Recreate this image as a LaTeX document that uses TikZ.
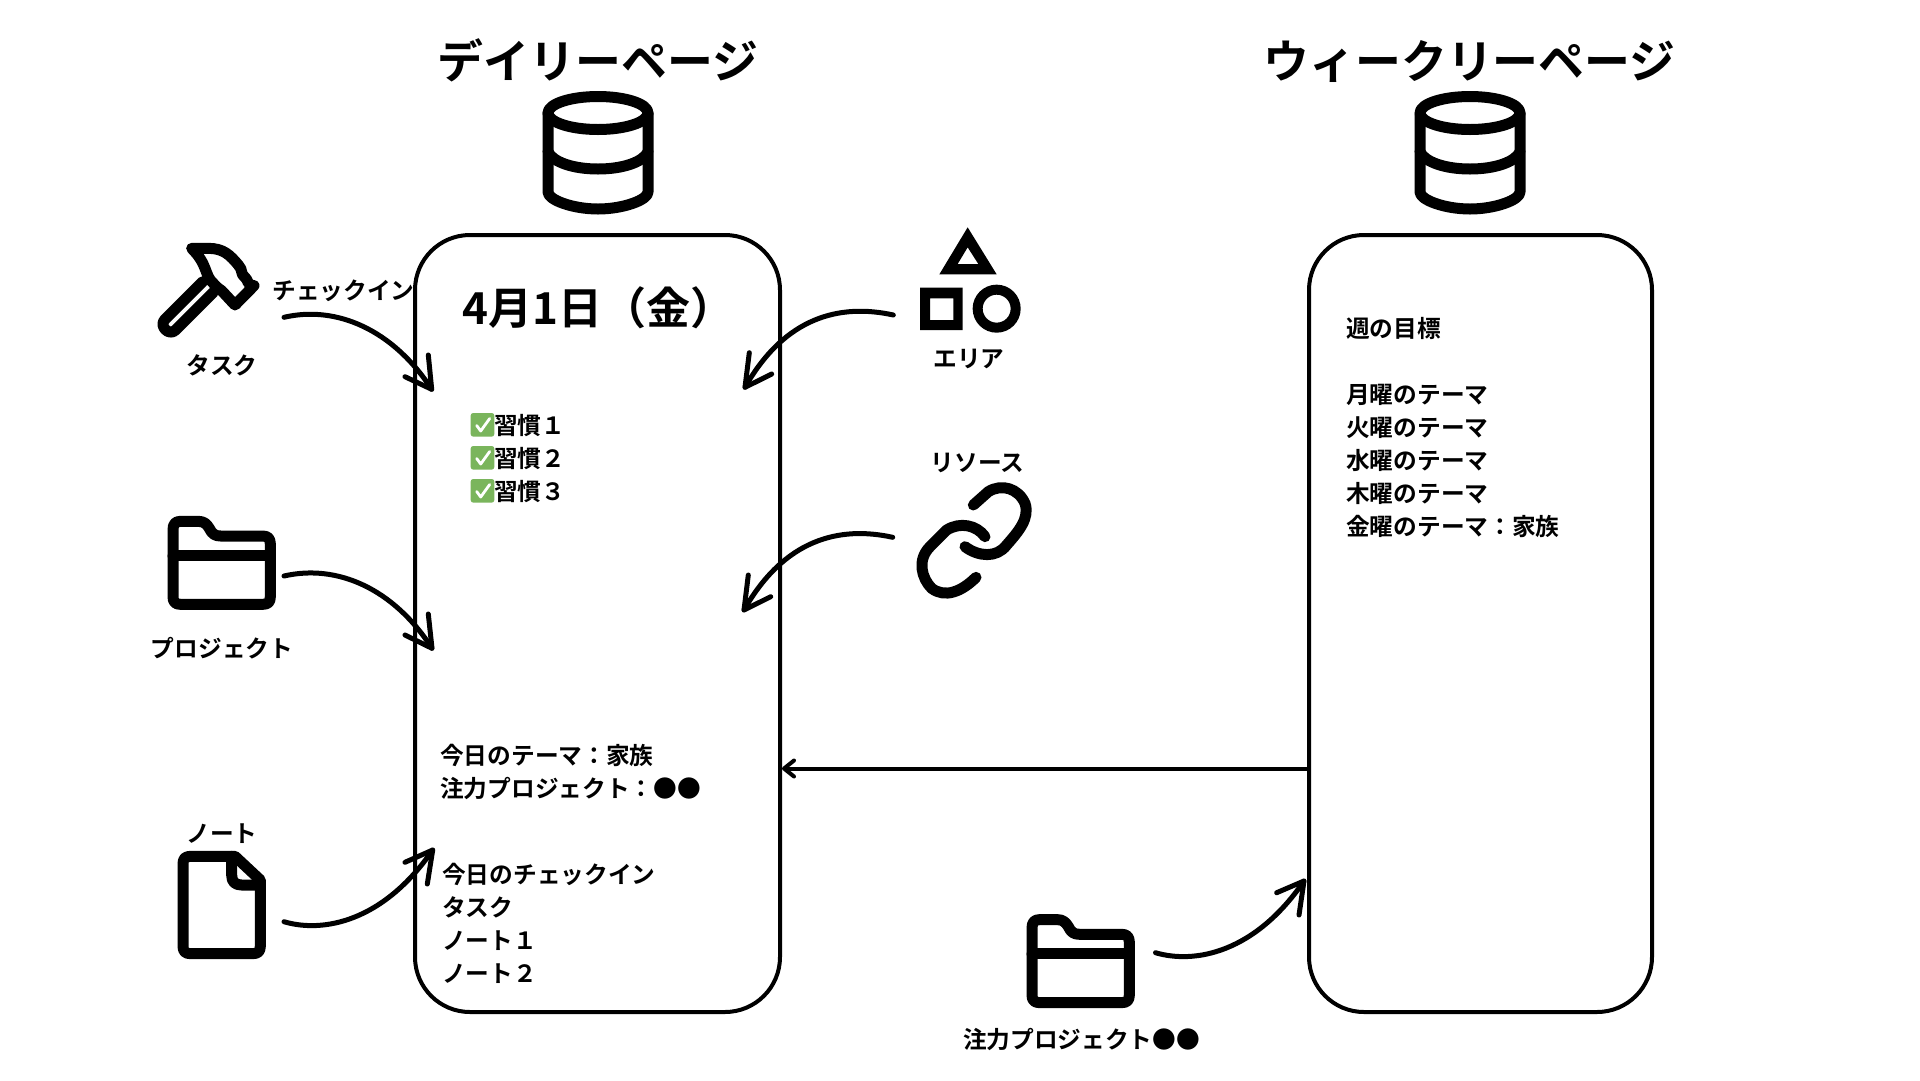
\documentclass[tikz,border=0pt]{standalone}
\usepackage{fontspec}
\setmainfont{Noto Sans CJK JP}[BoldFont={Noto Sans CJK JP Bold}]
\definecolor{checkgreen}{HTML}{7AB55C}
\newcommand{\sizedfont}[1]{\fontsize{#1}{#1}\selectfont\bfseries}
\tikzset{
  x=1pt,y=-1pt,
  panel/.style={draw=black,line width=4pt,rounded corners=55pt,minimum width=#1,minimum height=777pt,inner sep=0pt},
  title/.style={font=\sizedfont{45.9},inner sep=0pt,text height=39pt,text depth=6pt,yshift=-2.5pt},
  label/.style={font=\sizedfont{23.7},inner sep=0pt,text height=20.8pt,text depth=2.9pt,yshift=-0.5pt},
  listtext/.style={label,anchor=west},
  datelabel/.style={font=\sizedfont{44},inner sep=0pt,text height=38pt,text depth=6pt,anchor=west},
  icon/.style={line width=11pt,line cap=round,line join=round},
  handline/.style={line width=5pt,line cap=round,line join=round},
  flow/.style={line width=4pt,line cap=round,line join=round},
  dbicon/.pic={
    \draw[icon,line cap=butt] (0,113) ellipse [x radius=50,y radius=16.5];
    \draw[icon] (-50,113) -- (-50,192) .. controls (-50,200) and (-25,209) .. (0,209) .. controls (25,209) and (50,200) .. (50,192) -- (50,113);
    \draw[icon] (-50,152) .. controls (-45,162) and (-25,169) .. (0,169) .. controls (25,169) and (45,162) .. (50,152);
  },
  foldericon/.pic={
    \begin{scope}[scale=1/3]
    \draw[icon] (69,167) -- (361,167);
    \draw[icon] (69,90) .. controls (69,72) and (76,64) .. (92,64) -- (145,64) .. controls (162,64) and (170,72) .. (178,85) .. controls (186,102) and (195,108) .. (212,108) -- (338,108) .. controls (354,108) and (361,116) .. (361,132) -- (361,290) .. controls (361,306) and (354,313) .. (338,313) -- (92,313) .. controls (76,313) and (69,306) .. (69,290) -- cycle;
    \end{scope}
  },
  checkbox/.pic={
    \fill[checkgreen,rounded corners=2.5pt] (0,0) rectangle (23.6,23.6);
    \draw[white,line width=2.8pt,line cap=round,line join=round] (6,12.5) -- (10,18) -- (19,5.5);
  },
}
\begin{document}
\begin{tikzpicture}
\useasboundingbox (0,0) rectangle (1920,1080);
\fill[white] (0,0) rectangle (1920,1080);

% panels
\node[panel=365pt] (daily) at (597.5,623.5) {};
\node[panel=343pt] (weekly) at (1480.5,623.5) {};

% titles and databases
\node[title] (dailytitle) at (598,59) {デイリーページ};
\node[title] (weeklytitle) at (1469.5,59) {ウィークリーページ};
\pic at (598,0) {dbicon};
\pic at (1470,0) {dbicon};

% hammer
\begin{scope}[shift={(130,220)},scale=1/3]
\draw[icon] (185,85) -- (235,85) .. controls (280,85) and (300,105) .. (325,135) .. controls (340,150) and (330,162) .. (345,172) .. controls (355,180) and (350,195) .. (372,197) -- (315,255) -- (275,212) .. controls (265,205) and (258,200) .. (250,190) .. controls (222,165) and (235,135) .. (185,85);
\draw[icon] (218,185) -- (105,298) .. controls (85,318) and (118,350) .. (137,330) -- (250,217);
\end{scope}

% folders
\pic at (150,500) {foldericon};
\pic at (1009,898.3) {foldericon};

% note
\begin{scope}[shift={(160,810)},scale=1/3]
\draw[icon] (92,139) -- (225,139) -- (301,210) -- (301,408) .. controls (301,424) and (294,431) .. (278,431) -- (92,431) .. controls (76,431) and (69,424) .. (69,408) -- (69,162) .. controls (69,146) and (76,139) .. (92,139) -- cycle;
\draw[icon] (215,139) -- (215,195) .. controls (215,215) and (225,225) .. (245,225) -- (301,225);
\end{scope}

% shapes icon
\begin{scope}[shift={(880,210)},scale=1/3]
\fill[even odd rule] (263,52) -- (350,193) -- (178,193) -- cycle (263,112) -- (233,162) -- (295,162) -- cycle;
\fill[even odd rule] (120,233) rectangle (248,360) (150,265) rectangle (220,330);
\draw[line width=10pt] (350,296) circle [radius=57];
\end{scope}

% link icon
\begin{scope}[shift={(890,450)},scale=1/3]
\draw[icon] (250,165) -- (295,125) .. controls (335,100) and (385,115) .. (405,160) .. controls (420,205) and (385,245) .. (350,285) .. controls (320,325) and (265,320) .. (225,290);
\draw[icon] (285,260) .. controls (260,225) and (210,215) .. (170,240) -- (120,290) .. controls (80,330) and (95,385) .. (125,415) .. controls (165,445) and (215,425) .. (258,382);
\end{scope}

% icon labels
\node[label] (tasklabel) at (222,365) {タスク};
\node[label] (checkinlabel) at (343.5,290) {チェックイン};
\node[label] (projectlabel) at (222,648) {プロジェクト};
\node[label] (notelabel) at (222,833) {ノート};
\node[label] (arealabel) at (969,358) {エリア};
\node[label] (resourcelabel) at (977.5,462) {リソース};
\node[label] (focuslabel) at (1081.5,1039) {注力プロジェクト●●};

% daily content
\node[datelabel] (datetext) at (462,308) {4月1日（金）};
\pic at (470.7,413) {checkbox};
\pic at (470.7,446) {checkbox};
\pic at (470.7,479) {checkbox};
\node[listtext] (habita) at (494,425) {習慣１};
\node[listtext] (habitb) at (494,458) {習慣２};
\node[listtext] (habitc) at (494,491) {習慣３};
\node[listtext] (theme) at (440,755) {今日のテーマ：家族};
\node[listtext] (focus) at (440,788) {注力プロジェクト：●●};
\node[listtext] (checkin) at (442,874) {今日のチェックイン};
\node[listtext] (taskline) at (442,907) {タスク};
\node[listtext] (notea) at (442,940) {ノート１};
\node[listtext] (noteb) at (442,973) {ノート２};

% weekly content
\node[listtext] (goal) at (1346,328) {週の目標};
\node[listtext] (mon) at (1346,394) {月曜のテーマ};
\node[listtext] (tue) at (1346,427) {火曜のテーマ};
\node[listtext] (wed) at (1346,460) {水曜のテーマ};
\node[listtext] (thu) at (1346,493) {木曜のテーマ};
\node[listtext] (fri) at (1346,526) {金曜のテーマ：家族};

% connector ends
\coordinate (taskout) at (284,317.3);
\coordinate (taskin) at (431.7,389.3);
\coordinate (projout) at (284,576);
\coordinate (projin) at (432,648.3);
\coordinate (noteout) at (284,921.7);
\coordinate (notein) at (432.7,850);
\coordinate (focusout) at (1155.5,952.7);
\coordinate (focusin) at (1304,881);
\coordinate (areaout) at (893.3,315);
\coordinate (areain) at (745,387.3);
\coordinate (resout) at (892.7,537.3);
\coordinate (resin) at (744,610);

% connectors
\draw[handline] (taskout) .. controls (336.7,305) and (393.3,330) .. (taskin);
\draw[handline] (428.3,355) -- (taskin) -- (405,376.7);
\draw[handline] (projout) .. controls (337.2,563.7) and (393.8,588.7) .. (projin);
\draw[handline] (428.3,614) -- (projin) -- (405,635);
\draw[handline] (noteout) .. controls (323.3,933.3) and (383.3,921.7) .. (notein);
\draw[handline] (427.3,884) -- (notein) -- (405,862.3);
\draw[handline] (focusout) .. controls (1195,964.3) and (1255,952.7) .. (focusin);
\draw[handline] (1299,915) -- (focusin) -- (1276.7,892.7);
\draw[handline] (areaout) .. controls (840,303.3) and (785,316.7) .. (areain);
\draw[handline] (749.3,352.7) -- (areain) -- (771.7,374);
\draw[handline] (resout) .. controls (839.4,525.6) and (784.4,539) .. (resin);
\draw[handline] (748.3,575) -- (resin) -- (770.7,596.7);
\coordinate (linkend) at (daily.east |- 0,768.5);
\draw[flow,line cap=butt] (weekly.west |- 0,768.5) -- ([xshift=2pt]linkend);
\draw[flow] ([shift={(12,-8)}]linkend) -- ([xshift=2pt]linkend) -- ([shift={(12,8)}]linkend);
\end{tikzpicture}
\end{document}
